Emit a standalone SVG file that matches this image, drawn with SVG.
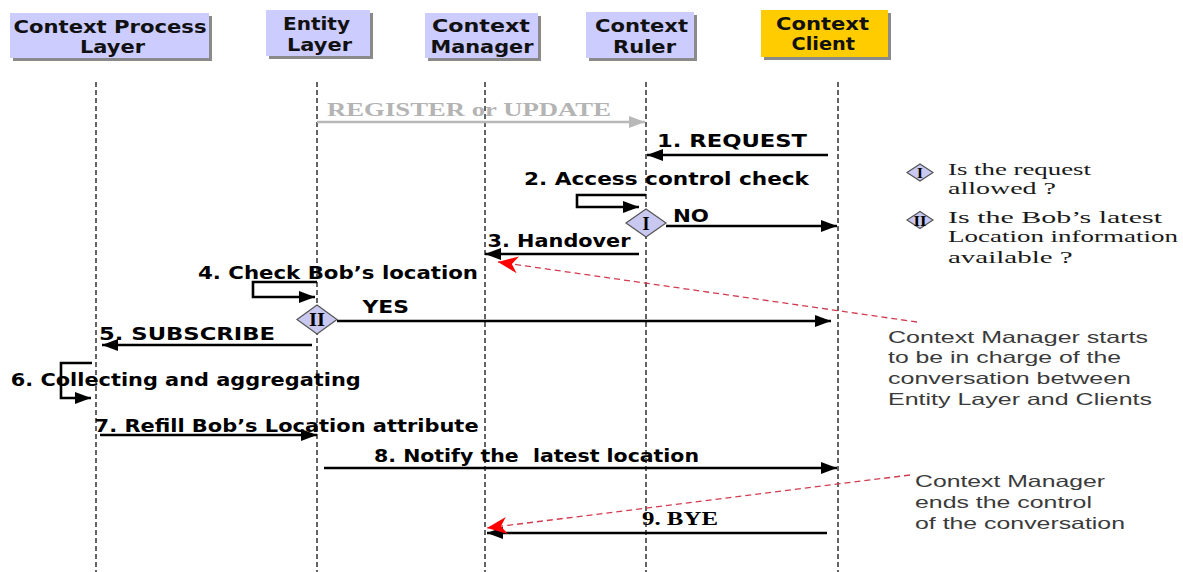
<svg xmlns="http://www.w3.org/2000/svg" width="1183" height="572" viewBox="0 0 1183 572">
  <style>
    .box { fill: #ccccff; }
    .box-client { fill: #ffcc00; }
    .shadow { fill: #8a8a8a; }
    .hdr { font-family: "DejaVu Sans", Verdana, sans-serif; font-weight: bold; font-size: 17px; fill: #111; }
    .life { stroke: #222; stroke-width: 1.4; stroke-dasharray: 5 3; fill: none; }
    .msg { stroke: #000; stroke-width: 2.6; fill: none; }
    .msg-gray { stroke: #b8b8b8; stroke-width: 2.6; fill: none; }
    .note-link { stroke: #d23c50; stroke-width: 1.3; stroke-dasharray: 6 4; fill: none; }
    .lbl { font-family: "DejaVu Sans", Verdana, sans-serif; font-weight: bold; font-size: 17px; fill: #000; }
    .lbl-serif { font-family: "Liberation Serif", "Times New Roman", serif; font-weight: bold; font-size: 19px; fill: #000; }
    .lbl-gray { font-family: "Liberation Serif", "Times New Roman", serif; font-weight: bold; font-size: 19px; fill: #b4b4b4; }
    .diamond { fill: #c8c8f0; stroke: #555; stroke-width: 1.2; }
    .roman { font-family: "Liberation Serif", "Times New Roman", serif; font-weight: bold; fill: #000; text-anchor: middle; }
    .legend { font-family: "Liberation Serif", "Times New Roman", serif; font-size: 17.5px; fill: #1a1a1a; }
    .note { font-family: "Liberation Sans", Arial, sans-serif; font-size: 16.5px; fill: #3a3a3a; }
  </style>
  <defs>
    <marker id="head" markerUnits="userSpaceOnUse" viewBox="0 0 16 12" refX="16" refY="6" markerWidth="16" markerHeight="12" orient="auto">
      <path d="M0,0 L16,6 L0,12 z" fill="#000"/>
    </marker>
    <marker id="head-gray" markerUnits="userSpaceOnUse" viewBox="0 0 16 12" refX="16" refY="6" markerWidth="16" markerHeight="12" orient="auto">
      <path d="M0,0 L16,6 L0,12 z" fill="#b8b8b8"/>
    </marker>
    <marker id="head-red" markerUnits="userSpaceOnUse" viewBox="0 -9 21 18" refX="20" refY="0" markerWidth="21" markerHeight="18" orient="auto">
      <path d="M0,-8.5 L20,0 L0,8.5 L6,0 z" fill="#ff0000"/>
    </marker>
  </defs>

  <rect width="1183" height="572" fill="#fff"/>

  <!-- participants: header box with its lifeline -->
  <g id="context-process-layer">
    <rect class="shadow" x="13" y="16" width="199" height="45"/>
    <rect class="box" x="10" y="13" width="199" height="45"/>
    <text class="hdr" x="13.5" y="33" textLength="193" lengthAdjust="spacingAndGlyphs">Context Process</text>
    <text class="hdr" x="80" y="53" textLength="65" lengthAdjust="spacingAndGlyphs">Layer</text>
    <line class="life" x1="96" y1="82" x2="96" y2="572"/>
  </g>
  <g id="entity-layer">
    <rect class="shadow" x="269" y="13" width="104" height="46"/>
    <rect class="box" x="266" y="10" width="104" height="46"/>
    <text class="hdr" x="283" y="30" textLength="67" lengthAdjust="spacingAndGlyphs">Entity</text>
    <text class="hdr" x="287" y="51" textLength="65" lengthAdjust="spacingAndGlyphs">Layer</text>
    <line class="life" x1="317" y1="82" x2="317" y2="572"/>
  </g>
  <g id="context-manager">
    <rect class="shadow" x="428" y="16" width="113" height="45"/>
    <rect class="box" x="425" y="13" width="113" height="45"/>
    <text class="hdr" x="432" y="32" textLength="98" lengthAdjust="spacingAndGlyphs">Context</text>
    <text class="hdr" x="430.5" y="52.5" textLength="103" lengthAdjust="spacingAndGlyphs">Manager</text>
    <line class="life" x1="485" y1="82" x2="485" y2="572"/>
  </g>
  <g id="context-ruler">
    <rect class="shadow" x="589" y="15" width="108" height="46"/>
    <rect class="box" x="586" y="12" width="108" height="46"/>
    <text class="hdr" x="595" y="32" textLength="93" lengthAdjust="spacingAndGlyphs">Context</text>
    <text class="hdr" x="613" y="53" textLength="63" lengthAdjust="spacingAndGlyphs">Ruler</text>
    <line class="life" x1="646" y1="82" x2="646" y2="572"/>
  </g>
  <g id="context-client">
    <rect class="shadow" x="764" y="13" width="127" height="47"/>
    <rect class="box-client" x="761" y="10" width="127" height="47"/>
    <text class="hdr" x="776" y="30" textLength="93" lengthAdjust="spacingAndGlyphs">Context</text>
    <text class="hdr" x="791.5" y="50" textLength="63.5" lengthAdjust="spacingAndGlyphs">Client</text>
    <line class="life" x1="838" y1="82" x2="838" y2="572"/>
  </g>

  <!-- messages between lifelines -->
  <g id="connectors">
    <line class="msg-gray" x1="317" y1="122" x2="645" y2="122" marker-end="url(#head-gray)"/>
    <text class="lbl-gray" x="327" y="116" textLength="284" lengthAdjust="spacingAndGlyphs">REGISTER or UPDATE</text>

    <line class="msg" x1="828" y1="155" x2="647" y2="155" marker-end="url(#head)"/>
    <text class="lbl" x="657" y="147" textLength="150" lengthAdjust="spacingAndGlyphs">1. REQUEST</text>

    <polyline class="msg" points="646,195 577,195 577,207 639,207" marker-end="url(#head)"/>
    <text class="lbl" x="524" y="185" textLength="285" lengthAdjust="spacingAndGlyphs">2. Access control check</text>

    <line class="msg" x1="666" y1="226" x2="837" y2="226" marker-end="url(#head)"/>
    <text class="lbl" x="673" y="222" textLength="36" lengthAdjust="spacingAndGlyphs">NO</text>

    <line class="msg" x1="639" y1="254" x2="485" y2="254" marker-end="url(#head)"/>
    <text class="lbl" x="487.5" y="247" textLength="143" lengthAdjust="spacingAndGlyphs">3. Handover</text>

    <polyline class="msg" points="317,282 253,282 253,297 315,297" marker-end="url(#head)"/>
    <text class="lbl" x="198" y="279" textLength="280" lengthAdjust="spacingAndGlyphs">4. Check Bob’s location</text>

    <line class="msg" x1="337" y1="321" x2="831" y2="321" marker-end="url(#head)"/>
    <text class="lbl" x="362.5" y="313" textLength="46.5" lengthAdjust="spacingAndGlyphs">YES</text>

    <line class="msg" x1="312" y1="345" x2="102" y2="345" marker-end="url(#head)"/>
    <text class="lbl" x="99" y="340" textLength="176" lengthAdjust="spacingAndGlyphs">5. SUBSCRIBE</text>

    <polyline class="msg" points="92,363 61,363 61,398 91,398" marker-end="url(#head)"/>
    <text class="lbl" x="10.7" y="386" textLength="350" lengthAdjust="spacingAndGlyphs">6. Collecting and aggregating</text>

    <line class="msg" x1="100" y1="435" x2="317" y2="435" marker-end="url(#head)"/>
    <text class="lbl" x="94.6" y="432" textLength="384" lengthAdjust="spacingAndGlyphs">7. Refill Bob’s Location attribute</text>

    <line class="msg" x1="324" y1="468" x2="837" y2="468" marker-end="url(#head)"/>
    <text class="lbl" x="374" y="462" textLength="325" lengthAdjust="spacingAndGlyphs" xml:space="preserve">8. Notify the  latest location</text>

    <line class="msg" x1="827" y1="533" x2="487" y2="533" marker-end="url(#head)"/>
    <text class="lbl-serif" x="642" y="525" textLength="76" lengthAdjust="spacingAndGlyphs">9. BYE</text>

    <!-- dashed pointers from the notes -->
    <line class="note-link" x1="917" y1="322" x2="498" y2="262" marker-end="url(#head-red)"/>
    <line class="note-link" x1="910" y1="475" x2="487" y2="528" marker-end="url(#head-red)"/>
  </g>

  <!-- decision points on the lifelines -->
  <g id="decision-1">
    <polygon class="diamond" points="626,223 646,209 666,223 646,237"/>
    <text class="roman" x="646" y="229.5" font-size="18">I</text>
  </g>
  <g id="decision-2">
    <polygon class="diamond" points="297,319.5 317,305 337,319.5 317,334"/>
    <text class="roman" x="317" y="326" font-size="18" textLength="16" lengthAdjust="spacingAndGlyphs">II</text>
  </g>

  <!-- legend for the decision points -->
  <g id="legend">
    <polygon class="diamond" points="907,172.5 920,164 933,172.5 920,181"/>
    <text class="roman" x="920" y="178" font-size="15">I</text>
    <text class="legend" x="948" y="175" textLength="143" lengthAdjust="spacingAndGlyphs">Is the request</text>
    <text class="legend" x="948" y="194" textLength="108" lengthAdjust="spacingAndGlyphs">allowed ?</text>
    <polygon class="diamond" points="907,220 920,211.5 933,220 920,228.5"/>
    <text class="roman" x="920" y="225.5" font-size="15" textLength="13" lengthAdjust="spacingAndGlyphs">II</text>
    <text class="legend" x="948" y="222.7" textLength="214" lengthAdjust="spacingAndGlyphs">Is the Bob’s latest</text>
    <text class="legend" x="948" y="242.3" textLength="230" lengthAdjust="spacingAndGlyphs">Location information</text>
    <text class="legend" x="948" y="262.7" textLength="124.7" lengthAdjust="spacingAndGlyphs">available ?</text>
  </g>

  <!-- notes -->
  <g id="note-start">
    <text class="note" x="888" y="342.7" textLength="260" lengthAdjust="spacingAndGlyphs">Context Manager starts</text>
    <text class="note" x="888" y="363" textLength="233" lengthAdjust="spacingAndGlyphs">to be in charge of the</text>
    <text class="note" x="888" y="384" textLength="243" lengthAdjust="spacingAndGlyphs">conversation between</text>
    <text class="note" x="888" y="405" textLength="264" lengthAdjust="spacingAndGlyphs">Entity Layer and Clients</text>
  </g>
  <g id="note-end">
    <text class="note" x="915" y="487" textLength="190" lengthAdjust="spacingAndGlyphs">Context Manager</text>
    <text class="note" x="915" y="508" textLength="177" lengthAdjust="spacingAndGlyphs">ends the control</text>
    <text class="note" x="915" y="529" textLength="210" lengthAdjust="spacingAndGlyphs">of the conversation</text>
  </g>
</svg>
